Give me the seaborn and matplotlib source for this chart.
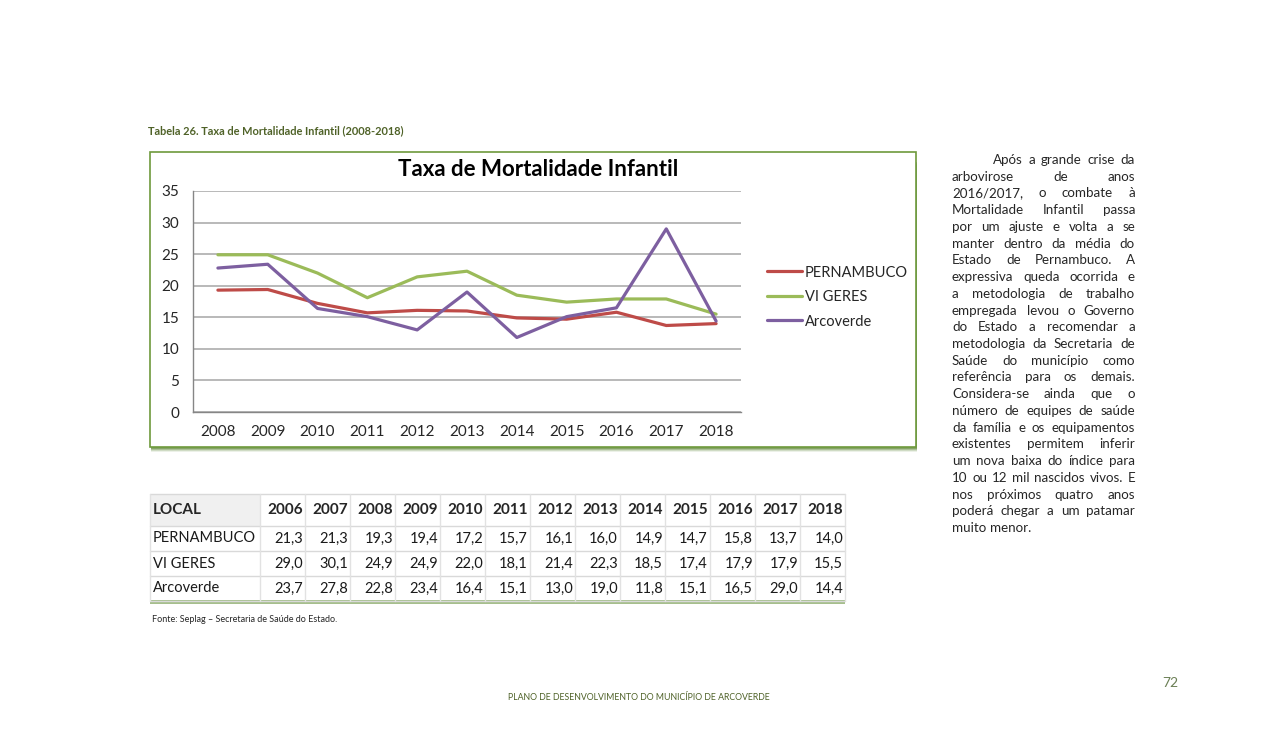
import numpy as np
import pandas as pd
import seaborn as sns
import matplotlib.pyplot as plt
from matplotlib.patches import Rectangle
from matplotlib.lines import Line2D

W, H = 1278, 737

# dados da tabela (2006-2018)
table_years = ["2006", "2007", "2008", "2009", "2010", "2011", "2012",
               "2013", "2014", "2015", "2016", "2017", "2018"]
locais = ["PERNAMBUCO", "VI GERES", "Arcoverde"]
pernambuco = [21.3, 21.3, 19.3, 19.4, 17.2, 15.7, 16.1, 16.0, 14.9, 14.7, 15.8, 13.7, 14.0]
vi_geres = [29.0, 30.1, 24.9, 24.9, 22.0, 18.1, 21.4, 22.3, 18.5, 17.4, 17.9, 17.9, 15.5]
arcoverde = [23.7, 27.8, 22.8, 23.4, 16.4, 15.1, 13.0, 19.0, 11.8, 15.1, 16.5, 29.0, 14.4]

# o grafico mostra 2008-2018
chart_years = [int(y) for y in table_years[2:]]
cores = {"PERNAMBUCO": "#BE4B48", "VI GERES": "#9BBB59", "Arcoverde": "#7D5FA0"}

paragrafo = [
    "Após a grande crise da",
    "arbovirose de anos",
    "2016/2017, o combate à",
    "Mortalidade Infantil passa",
    "por um ajuste e volta a se",
    "manter dentro da média do",
    "Estado de Pernambuco. A",
    "expressiva queda ocorrida e",
    "a metodologia de trabalho",
    "empregada levou o Governo",
    "do Estado a recomendar a",
    "metodologia da Secretaria de",
    "Saúde do município como",
    "referência para os demais.",
    "Considera-se ainda que o",
    "número de equipes de saúde",
    "da família e os equipamentos",
    "existentes permitem inferir",
    "um nova baixa do índice para",
    "10 ou 12 mil nascidos vivos. E",
    "nos próximos quatro anos",
    "poderá chegar a um patamar",
    "muito menor.",
]

sns.set_style("white")
plt.rcParams["font.family"] = ["Lato", "DejaVu Sans"]
VERDE = "#4F6228"


def fx(x):
    return x / W


def fy(y):
    return 1 - y / H


fig = plt.figure(figsize=(W / 100, H / 100), dpi=100)

# legenda da tabela
fig.text(fx(148), fy(131), "Tabela 26. Taxa de Mortalidade Infantil (2008-2018)",
         fontsize=7.9, weight="bold", color=VERDE, va="center", ha="left")

# caixa do grafico com sombra
for k, a in enumerate([0.10, 0.18, 0.28, 0.40]):
    off = 5 - k
    fig.patches.append(Rectangle((fx(151), fy(447 + off)), (917 - 151) / W, (447 - 160) / H,
                                 transform=fig.transFigure, facecolor="#4E7A22",
                                 edgecolor="none", alpha=a, zorder=0))
fig.patches.append(Rectangle((fx(150), fy(447)), (916 - 150) / W, (447 - 152) / H,
                             transform=fig.transFigure, facecolor="white",
                             edgecolor="#6E9A3C", lw=1.2, zorder=1))

fig.text(fx(538), fy(169), "Taxa de Mortalidade Infantil", ha="center", va="center",
         fontsize=16, weight="bold", color="black", zorder=5)

df = pd.DataFrame({
    "Ano": chart_years * 3,
    "Taxa": pernambuco[2:] + vi_geres[2:] + arcoverde[2:],
    "Local": [l for l in locais for _ in chart_years],
})

ax = fig.add_axes([fx(193), fy(412), (741 - 193) / W, (412 - 191) / H], zorder=3)
ax.patch.set_alpha(0)
sns.lineplot(data=df, x="Ano", y="Taxa", hue="Local", palette=cores,
             linewidth=2.3, ax=ax, sort=False)
ax.set_xlim(chart_years[0] - 0.5, chart_years[-1] + 0.5)
ax.set_ylim(0, 35)
ax.set_yticks(range(0, 36, 5))
ax.set_xticks(chart_years)
ax.set_xticklabels([str(y) for y in chart_years])
ax.set_xticks(np.arange(chart_years[0] - 0.5, chart_years[-1] + 1, 1), minor=True)
ax.yaxis.grid(True, color="#A6A6A6", lw=1.1)
ax.set_axisbelow(True)
for s in ["top", "right"]:
    ax.spines[s].set_visible(False)
for s in ["left", "bottom"]:
    ax.spines[s].set_color("#868686")
    ax.spines[s].set_linewidth(1)
ax.tick_params(axis="x", which="major", length=0, pad=9, labelsize=11)
ax.tick_params(axis="x", which="minor", length=5, color="#868686", direction="out")
ax.tick_params(axis="y", length=4, color="#868686", direction="out", pad=6, labelsize=11)
ax.set_xlabel("")
ax.set_ylabel("")

handles = [Line2D([0], [0], color=cores[l], lw=2.3) for l in locais]
ax.get_legend().remove()
fig.legend(handles, locais, loc="center left", bbox_to_anchor=(fx(761), fy(297)),
           frameon=False, fontsize=10.5, handlelength=2.4, handletextpad=0.2,
           labelspacing=0.72, borderaxespad=0)

# tabela
tab_top, tab_bot = 494, 601
row_lines = [494, 526, 551, 576, 601]
col_lines = [150, 260] + [260 + 45 * (i + 1) for i in range(len(table_years))]
fig.patches.append(Rectangle((fx(150), fy(604)), (845 - 150) / W, 4 / H,
                             transform=fig.transFigure, facecolor="#5E8A2E",
                             edgecolor="none", alpha=0.55))
fig.patches.append(Rectangle((fx(150), fy(526)), 110 / W, 32 / H,
                             transform=fig.transFigure, facecolor="#F0F0F0",
                             edgecolor="none"))
for y in row_lines:
    fig.add_artist(Line2D([fx(150), fx(845)], [fy(y), fy(y)], color="#D9D9D9", lw=1))
for x in col_lines:
    fig.add_artist(Line2D([fx(x), fx(x)], [fy(tab_top), fy(tab_bot)], color="#E2E2E2", lw=1))

fig.text(fx(153), fy(510), "LOCAL", fontsize=11, weight="bold",
         va="center", ha="left")
for i, y in enumerate(table_years):
    fig.text(fx(303 + 45 * i), fy(510), y, fontsize=11, weight="bold",
             va="center", ha="right")

for r, (nome, vals) in enumerate(zip(locais, [pernambuco, vi_geres, arcoverde])):
    yc = 538.5 + 25 * r
    fig.text(fx(153), fy(yc), nome, fontsize=10.5, va="center", ha="left", color="#1a1a1a")
    for i, v in enumerate(vals):
        fig.text(fx(303 + 45 * i), fy(yc), f"{v:.1f}".replace(".", ","), fontsize=10.5,
                 va="center", ha="right", color="#1a1a1a")

fig.text(fx(152), fy(620), "Fonte: Seplag – Secretaria de Saúde do Estado.",
         fontsize=6.5, va="center", ha="left")

# texto justificado
renderer = fig.canvas.get_renderer()
for i, linha in enumerate(paragrafo):
    yc = fy(160 + i * 16.73)
    words = linha.split()
    x0 = 993 if i == 0 else 952
    x1 = 1135
    ts = [fig.text(0, yc, w, fontsize=9.6, va="center", ha="left") for w in words]
    ws = [t.get_window_extent(renderer).width for t in ts]
    if i == len(paragrafo) - 1 or len(words) == 1:
        gap = 3.4
    else:
        gap = (x1 - x0 - sum(ws)) / (len(words) - 1)
    x = x0
    for t, w in zip(ts, ws):
        t.set_x(fx(x))
        x += w + gap

fig.text(fx(1178), fy(683), "72", fontsize=10, color="#6B7F55", ha="right", va="center")
fig.text(fx(639), fy(697), "PLANO DE DESENVOLVIMENTO DO MUNICÍPIO DE ARCOVERDE",
         fontsize=6.3, color=VERDE, ha="center", va="center")

fig.savefig("out.png", dpi=100)
